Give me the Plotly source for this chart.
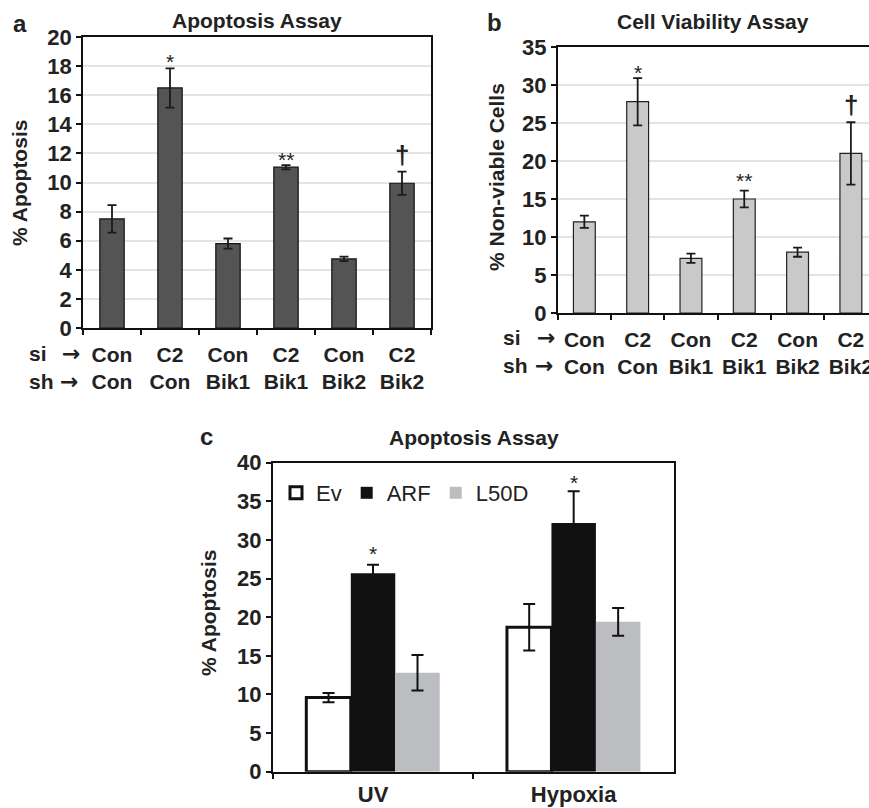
import plotly.graph_objects as go

W, H = 869, 808

# ---------------- data ----------------
ab_categories = ["Con<br>Con", "C2<br>Con", "Con<br>Bik1", "C2<br>Bik1", "Con<br>Bik2", "C2<br>Bik2"]
a_values = [7.5, 16.5, 5.8, 11.05, 4.75, 9.95]
a_errors = [0.95, 1.35, 0.35, 0.15, 0.15, 0.8]
a_marks = ["", "*", "", "**", "", "†"]
a_mark_y = [0, 18.3, 0, 11.6, 0, 11.9]

b_values = [12.0, 27.8, 7.2, 15.0, 8.0, 21.0]
b_errors = [0.8, 3.1, 0.6, 1.1, 0.6, 4.1]
b_marks = ["", "*", "", "**", "", "†"]
b_mark_y = [0, 31.6, 0, 17.5, 0, 27.4]

c_categories = ["UV", "Hypoxia"]
c_series = ["Ev", "ARF", "L50D"]
c_values = {"Ev": [9.6, 18.7], "ARF": [25.7, 32.2], "L50D": [12.8, 19.4]}
c_errors = {"Ev": [0.6, 3.0], "ARF": [1.1, 4.1], "L50D": [2.3, 1.8]}
c_marks = ["*", "*"]
c_mark_y = [28.2, 37.4]

FONT = "Liberation Sans, Arial, sans-serif"

def px_x(p):
    return p / W

def px_y(p):
    return 1 - p / H

fig = go.Figure()

# panel a
fig.add_trace(go.Bar(
    x=ab_categories, y=a_values, width=0.42,
    marker=dict(color="#545454", line=dict(color="#111111", width=1.2)),
    error_y=dict(type="data", array=a_errors, color="#1a1a1a", thickness=1.8, width=4.5),
    xaxis="x", yaxis="y", showlegend=False,
))
# panel b
fig.add_trace(go.Bar(
    x=ab_categories, y=b_values, width=0.41,
    marker=dict(color="#c9c9c9", line=dict(color="#222222", width=1.2)),
    error_y=dict(type="data", array=b_errors, color="#1a1a1a", thickness=1.8, width=4.5),
    xaxis="x2", yaxis="y2", showlegend=False,
))
# panel c
c_styles = {
    "Ev": dict(color="white", line=dict(color="#111111", width=3)),
    "ARF": dict(color="#111111", line=dict(color="#111111", width=0)),
    "L50D": dict(color="#bcbdc0", line=dict(color="#bcbdc0", width=0)),
}
for s in c_series:
    fig.add_trace(go.Bar(
        name=s, x=c_categories, y=c_values[s],
        marker=c_styles[s],
        error_y=dict(type="data", array=c_errors[s], color="#111111", thickness=2, width=6),
        xaxis="x3", yaxis="y3",
    ))

def axis_common(size):
    return dict(showline=True, linecolor="#111111", linewidth=1.6, ticks="outside",
                tickcolor="#111111", ticklen=5, tickwidth=1.6, automargin=False,
                tickfont=dict(family=FONT, size=size, color="#222222", weight="bold"))

fig.update_layout(
    width=W, height=H, margin=dict(l=0, r=0, t=0, b=0, autoexpand=False),
    paper_bgcolor="white", plot_bgcolor="white",
    barmode="group", bargap=0.335, bargroupgap=0,
    xaxis=dict(domain=[px_x(83), px_x(431)], anchor="y", type="category", tickangle=0,
               tickson="boundaries", mirror=True, ticklabelstandoff=7, **axis_common(21)),
    yaxis=dict(domain=[px_y(328), px_y(37)], anchor="x", range=[0, 20], dtick=2,
               mirror=True, showgrid=True, gridcolor="#e4e4e4", gridwidth=1.5,
               zeroline=False, **axis_common(22)),
    xaxis2=dict(domain=[px_x(557.7), 1.0], anchor="y2", type="category", tickangle=0,
                range=[-0.5, 5.34], tickson="boundaries", mirror=True,
                ticklabelstandoff=7, **axis_common(21)),
    yaxis2=dict(domain=[px_y(313), px_y(47)], anchor="x2", range=[0, 35], dtick=5,
                mirror=False, showgrid=True, gridcolor="#e4e4e4", gridwidth=1.5,
                zeroline=False, **axis_common(22)),
    xaxis3=dict(domain=[px_x(272.7), px_x(674)], anchor="y3", type="category", tickangle=0,
                tickson="boundaries", mirror=True, ticklabelstandoff=2, **axis_common(22)),
    yaxis3=dict(domain=[px_y(771.7), px_y(462.7)], anchor="x3", range=[0, 40], dtick=5,
                mirror=True, showgrid=False, zeroline=False, **axis_common(22)),
    legend=dict(orientation="h", x=px_x(276), y=px_y(493), xanchor="left", yanchor="middle",
                bgcolor="rgba(0,0,0,0)", font=dict(family=FONT, size=22, color="#222222"),
                itemwidth=30, tracegroupgap=0),
    font=dict(family=FONT, color="#222222"),
)

ann = []
def text(x, y, t, size=21, xanchor="center", angle=0, weight="bold", family=FONT):
    ann.append(dict(x=x, y=y, xref="paper", yref="paper", text=t, showarrow=False,
                    xanchor=xanchor, yanchor="middle", textangle=angle,
                    font=dict(family=family, size=size, color="#222222", weight=weight)))

# panel letters
text(px_x(20), px_y(23), "a", size=24)
text(px_x(494), px_y(22), "b", size=24)
text(px_x(206), px_y(436), "c", size=24)
# titles
text(px_x(257), px_y(20), "Apoptosis Assay", size=21)
text(px_x(713), px_y(21), "Cell Viability Assay", size=21)
text(px_x(474), px_y(437), "Apoptosis Assay", size=21)
# y titles
text(px_x(20), px_y(183), "% Apoptosis", size=21, angle=-90)
text(px_x(497), px_y(177), "% Non-viable Cells", size=21, angle=-90)
text(px_x(208), px_y(613), "% Apoptosis", size=21, angle=-90)
# si / sh row labels
for xl, xa, y1, y2 in [(27, 71, 353, 381), (501, 546, 338, 366)]:
    text(px_x(xl), px_y(y1), "si", xanchor="left")
    text(px_x(xl), px_y(y2), "sh", xanchor="left")
    text(px_x(xa), px_y(y1), "→", size=22, weight="bold", family="DejaVu Sans")
    text(px_x(xa - 2), px_y(y2), "→", size=22, weight="bold", family="DejaVu Sans")

# significance marks
for xs, ys, ms, xr, yr in [(ab_categories, a_mark_y, a_marks, "x", "y"),
                           (ab_categories, b_mark_y, b_marks, "x2", "y2")]:
    for cat, yy, m in zip(xs, ys, ms):
        if m:
            ann.append(dict(x=cat, y=yy, xref=xr, yref=yr, text=m, showarrow=False,
                            yanchor="middle",
                            font=dict(family=FONT, size=26 if m == "†" else 21,
                                      color="#222222", weight="bold" if m == "†" else "normal")))
for cat, yy, m in zip(c_categories, c_mark_y, c_marks):
    ann.append(dict(x=cat, y=yy, xref="x3", yref="y3", text=m, showarrow=False,
                    yanchor="middle", font=dict(family=FONT, size=21, color="#222222")))

fig.update_layout(annotations=ann)
fig.write_html("out.html", config={"displayModeBar": False},
               post_script="document.body.style.margin='0';document.body.style.overflow='hidden';")
